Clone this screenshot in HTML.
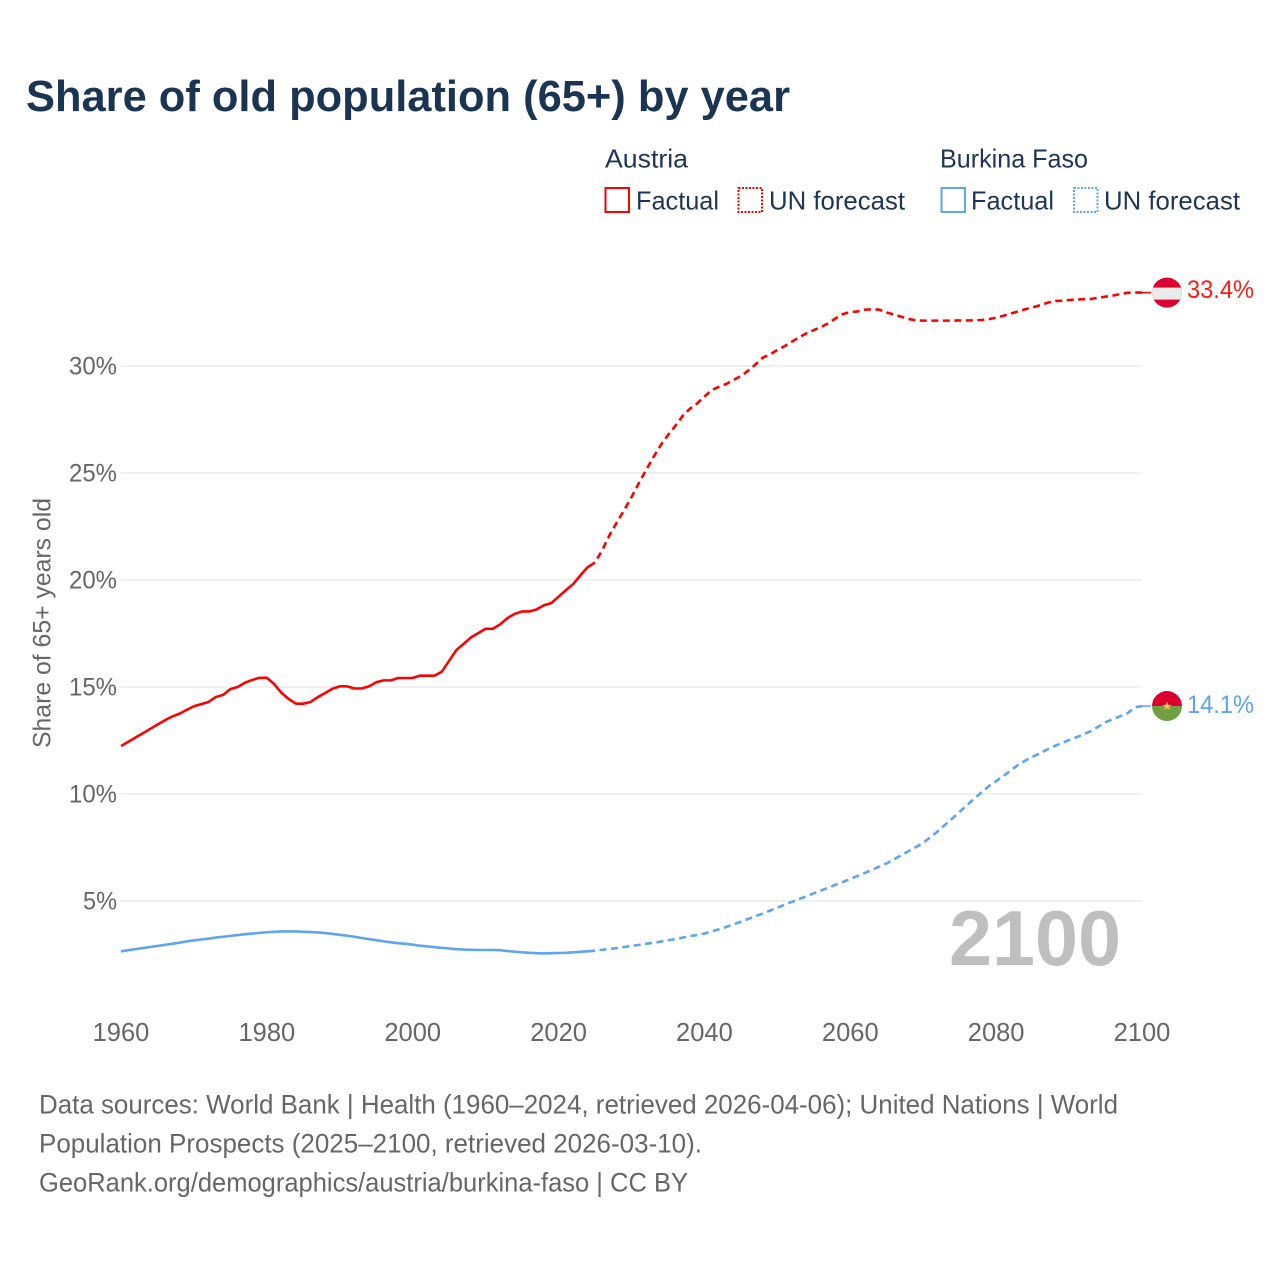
<!DOCTYPE html>
<html lang="en">
<head>
<meta charset="utf-8">
<title>Share of old population (65+) by year</title>
<style>
html,body{margin:0;padding:0;background:#fff;}
svg{display:block;font-family:"Liberation Sans",sans-serif;}
</style>
</head>
<body>
<svg id="chart" xmlns="http://www.w3.org/2000/svg" width="1280" height="1280" viewBox="0 0 1280 1280">
  <rect width="1280" height="1280" fill="#fff"/>
  <text x="26" y="111" font-size="44" font-weight="700" fill="#1a3454" textLength="764" lengthAdjust="spacingAndGlyphs">Share of old population (65+) by year</text>

  <g font-size="26" fill="#1d3557">
    <text x="605" y="167.5" textLength="83" lengthAdjust="spacingAndGlyphs">Austria</text>
    <text x="940" y="167.5" textLength="148" lengthAdjust="spacingAndGlyphs">Burkina Faso</text>
    <rect x="605.5" y="188" width="23.5" height="24" fill="none" stroke="#ff0000" stroke-width="2"/>
    <text x="636" y="209.5" textLength="83" lengthAdjust="spacingAndGlyphs">Factual</text>
    <rect x="738.5" y="188" width="23.5" height="24" fill="none" stroke="#ff0000" stroke-width="2" stroke-dasharray="2 1.5"/>
    <text x="769" y="209.5" textLength="136" lengthAdjust="spacingAndGlyphs">UN forecast</text>
    <rect x="941.5" y="188" width="23.5" height="24" fill="none" stroke="#5fa4ee" stroke-width="2"/>
    <text x="971" y="209.5" textLength="83" lengthAdjust="spacingAndGlyphs">Factual</text>
    <rect x="1074" y="188" width="23.5" height="24" fill="none" stroke="#5fa4ee" stroke-width="2" stroke-dasharray="2 1.5"/>
    <text x="1104" y="209.5" textLength="136" lengthAdjust="spacingAndGlyphs">UN forecast</text>
  </g>

  <g id="grid"></g>
  <g id="yTicks" font-size="25" fill="#666"></g>
  <g id="xTicks" font-size="25.5" fill="#666"></g>
  <text transform="translate(50.5,748) rotate(-90)" font-size="25" fill="#666" textLength="250" lengthAdjust="spacingAndGlyphs">Share of 65+ years old</text>

  <text x="949" y="965" font-size="78" font-weight="700" fill="#bfbfbf" textLength="172" lengthAdjust="spacingAndGlyphs">2100</text>

  <g id="series" fill="none" stroke-width="2.6" stroke-linejoin="round"></g>

  <g id="flagAustria">
    <clipPath id="clipA"><circle cx="1167" cy="0" r="15"/></clipPath>
    <g clip-path="url(#clipA)">
      <rect x="1150" y="-16" width="34" height="32" fill="#dc0030"/>
      <rect x="1150" y="-5" width="34" height="12" fill="#ebebeb"/>
    </g>
  </g>
  <g id="flagBurkina">
    <clipPath id="clipB"><circle cx="1167" cy="0" r="15"/></clipPath>
    <g clip-path="url(#clipB)">
      <rect x="1150" y="-16" width="34" height="16" fill="#dc0030"/>
      <rect x="1150" y="0" width="34" height="16" fill="#71a044"/>
    </g>
    <polygon points="1167,-4.5 1168.2,-1.2 1171.5,-1.2 1168.9,0.8 1169.8,4 1167,2.1 1164.2,4 1165.1,0.8 1162.5,-1.2 1165.8,-1.2" fill="#f6c445"/>
  </g>
  <text id="labelAustria" x="1187" font-size="25" fill="#ff1a1a" textLength="67" lengthAdjust="spacingAndGlyphs">33.4%</text>
  <text id="labelBurkina" x="1187" font-size="25" fill="#5fa4ee" textLength="67" lengthAdjust="spacingAndGlyphs">14.1%</text>

  <g font-size="26.5" fill="#666">
    <text x="39" y="1113.5" textLength="1079" lengthAdjust="spacingAndGlyphs">Data sources: World Bank | Health (1960–2024, retrieved 2026-04-06); United Nations | World</text>
    <text x="39" y="1152.5" textLength="663" lengthAdjust="spacingAndGlyphs">Population Prospects (2025–2100, retrieved 2026-03-10).</text>
    <text x="39" y="1191.5" textLength="649" lengthAdjust="spacingAndGlyphs">GeoRank.org/demographics/austria/burkina-faso | CC BY</text>
  </g>
</svg>
<script>
const xTickYears = [1960, 1980, 2000, 2020, 2040, 2060, 2080, 2100];
const yTickValues = [5, 10, 15, 20, 25, 30];
const firstYear = 1960;
const lastFactualYear = 2025;

const austriaValues = [
  12.24,12.44,12.64,12.84,13.04,13.24,13.44,13.62,13.75,13.93,
  14.10,14.20,14.30,14.53,14.63,14.90,15.00,15.20,15.33,15.43,
  15.43,15.14,14.73,14.44,14.22,14.22,14.30,14.53,14.72,14.92,
  15.03,15.03,14.93,14.93,15.03,15.22,15.31,15.31,15.42,15.42,
  15.42,15.53,15.53,15.53,15.72,16.23,16.73,17.02,17.32,17.52,
  17.72,17.72,17.93,18.22,18.42,18.53,18.53,18.63,18.82,18.92,
  19.22,19.52,19.81,20.22,20.60,20.82,
  21.40,22.10,22.70,23.27,23.87,24.52,25.14,25.74,26.30,26.77,
  27.20,27.66,28.00,28.25,28.57,28.88,29.03,29.16,29.35,29.53,
  29.78,30.07,30.39,30.54,30.75,30.93,31.14,31.34,31.53,31.68,
  31.82,32.00,32.23,32.43,32.52,32.55,32.63,32.65,32.63,32.50,
  32.40,32.30,32.20,32.13,32.12,32.12,32.12,32.12,32.12,32.13,
  32.13,32.13,32.15,32.19,32.26,32.35,32.45,32.55,32.65,32.74,
  32.84,32.95,33.04,33.05,33.08,33.11,33.12,33.13,33.19,33.24,
  33.29,33.36,33.42,33.43,33.43
];

const burkinaValues = [
  2.65,2.70,2.75,2.80,2.85,2.90,2.95,3.00,3.05,3.11,
  3.16,3.20,3.24,3.29,3.33,3.37,3.41,3.45,3.48,3.51,
  3.54,3.56,3.58,3.58,3.58,3.56,3.55,3.53,3.50,3.46,
  3.42,3.38,3.33,3.27,3.22,3.17,3.12,3.07,3.03,3.00,
  2.96,2.91,2.88,2.84,2.81,2.78,2.75,2.73,2.72,2.71,
  2.71,2.71,2.70,2.66,2.63,2.60,2.58,2.56,2.55,2.56,
  2.57,2.58,2.60,2.63,2.65,2.68,
  2.72,2.76,2.80,2.85,2.90,2.95,3.00,3.05,3.10,3.16,
  3.22,3.29,3.36,3.41,3.48,3.58,3.68,3.79,3.91,4.03,
  4.16,4.29,4.42,4.55,4.69,4.83,4.96,5.09,5.22,5.36,
  5.49,5.62,5.76,5.89,6.03,6.17,6.31,6.46,6.61,6.76,
  6.95,7.14,7.33,7.52,7.72,7.98,8.26,8.56,8.86,9.17,
  9.48,9.78,10.08,10.37,10.60,10.85,11.10,11.36,11.56,11.74,
  11.90,12.08,12.24,12.38,12.52,12.65,12.79,12.94,13.15,13.35,
  13.50,13.63,13.77,14.05,14.11
];

const NS = 'http://www.w3.org/2000/svg';
function xScale(year) { return 121 + (year - 1960) * (1142 - 121) / 140; }
function yScale(value) { return 1008 - value * 21.4; }

function pathFor(values, fromYear, toYear) {
  let d = '';
  for (let year = fromYear; year <= toYear; year++) {
    const v = values[year - firstYear];
    d += (d ? 'L' : 'M') + xScale(year).toFixed(2) + ' ' + yScale(v).toFixed(2);
  }
  return d;
}

const gridGroup = document.getElementById('grid');
const yTickGroup = document.getElementById('yTicks');
yTickValues.forEach(function (v) {
  const line = document.createElementNS(NS, 'line');
  
  
  line.setAttribute('x1', xScale(1960));
  line.setAttribute('x2', xScale(2100));
  line.setAttribute('y1', yScale(v));
  line.setAttribute('y2', yScale(v));
  line.setAttribute('stroke', '#e2e2e2');
  line.setAttribute('stroke-width', '1');
  gridGroup.appendChild(line);

  const label = document.createElementNS(NS, 'text');
  
  
  label.setAttribute('x', 117);
  label.setAttribute('y', yScale(v) + 8.5);
  label.setAttribute('text-anchor', 'end');
  label.setAttribute('textLength', String(v).length > 1 ? 48 : 34);
  label.setAttribute('lengthAdjust', 'spacingAndGlyphs');
  label.textContent = v + '%';
  yTickGroup.appendChild(label);
});

const xTickGroup = document.getElementById('xTicks');
xTickYears.forEach(function (year) {
  const label = document.createElementNS(NS, 'text');
  
  
  label.setAttribute('x', xScale(year));
  label.setAttribute('y', 1041);
  label.setAttribute('text-anchor', 'middle');
  label.textContent = year;
  xTickGroup.appendChild(label);
});

const seriesGroup = document.getElementById('series');
function drawSeries(values, color, key) {
  const solid = document.createElementNS(NS, 'path');
  
  
  solid.setAttribute('d', pathFor(values, firstYear, lastFactualYear));
  solid.setAttribute('stroke', color);
  seriesGroup.appendChild(solid);

  const dashed = document.createElementNS(NS, 'path');
  
  
  dashed.setAttribute('d', pathFor(values, lastFactualYear, 2100));
  dashed.setAttribute('stroke', color);
  dashed.setAttribute('stroke-dasharray', '7 4.5');
  dashed.setAttribute('stroke-dashoffset', '7');
  seriesGroup.appendChild(dashed);

  const endY = yScale(values[values.length - 1]);
  const connector = document.createElementNS(NS, 'line');
  
  
  connector.setAttribute('x1', xScale(2100));
  connector.setAttribute('x2', xScale(2100) + 9);
  connector.setAttribute('y1', endY);
  connector.setAttribute('y2', endY);
  connector.setAttribute('stroke', color);
  connector.setAttribute('stroke-width', '1.5');
  seriesGroup.appendChild(connector);
  return endY;
}
const austriaEnd = drawSeries(austriaValues, '#ff0000', 'austria');
const burkinaEnd = drawSeries(burkinaValues, '#5fa4ee', 'burkina-faso');

document.getElementById('flagAustria').setAttribute('transform', 'translate(0,' + austriaEnd + ')');
document.getElementById('flagBurkina').setAttribute('transform', 'translate(0,' + burkinaEnd + ')');
document.getElementById('labelAustria').setAttribute('y', austriaEnd + 5.5);
document.getElementById('labelBurkina').setAttribute('y', burkinaEnd + 7);
</script>
</body>
</html>
